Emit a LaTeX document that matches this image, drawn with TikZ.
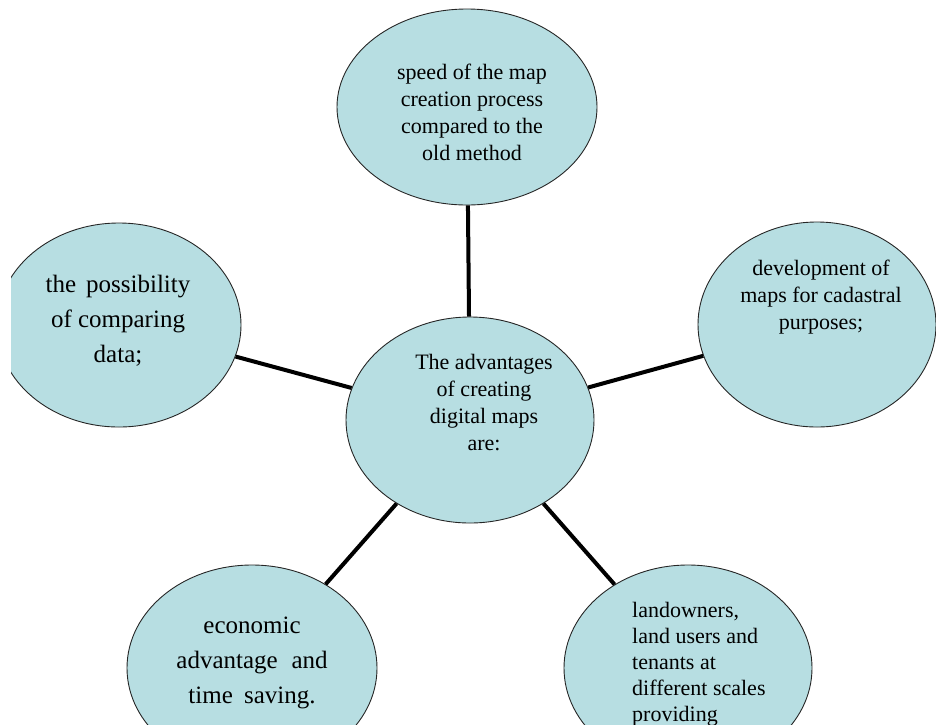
\documentclass[tikz,border=0pt]{standalone}
\usepackage{fontspec}
\setmainfont{Liberation Serif}
\usetikzlibrary{shapes.geometric}
\definecolor{bubble}{RGB}{183,222,226}
\begin{document}
\begin{tikzpicture}[x=1pt,y=-1pt,
  bub/.style={ellipse, draw=black!85, line width=0.9pt, fill=bubble, inner sep=0pt},
  link/.style={line width=4pt, draw=black},
  txt/.style={font=\fontsize{22}{27}\selectfont, align=center, inner sep=0pt},
  bigtxt/.style={font=\fontsize{25}{35}\selectfont, align=center, inner sep=0pt}]
\useasboundingbox (0,0) rectangle (936,724);
\clip (0,0) rectangle (936,724);
% ellipses
\node[bub, minimum width=260pt, minimum height=196pt] (top) at (467,107) {};
\node[bub, minimum width=248pt, minimum height=206pt] (ctr) at (470,420) {};
\node[bub, minimum width=238pt, minimum height=205pt] (right) at (817,324.5) {};
\begin{scope}
  \clip (11,0) rectangle (936,724);
  \node[bub, minimum width=244pt, minimum height=204pt] (left) at (119,325) {};
\end{scope}
\node[bub, minimum width=250pt, minimum height=206pt] (bl) at (252,668) {};
\node[bub, minimum width=248pt, minimum height=206pt] (br) at (688,668) {};
% connectors
\draw[link] (ctr) -- (top);
\draw[link] (ctr) -- (right);
\draw[link] (ctr) -- (left);
\draw[link] (ctr) -- (bl);
\draw[link] (ctr) -- (br);
% texts
\node[txt] (topT) at (472,112) {speed of the map\\creation process\\compared to the\\old method};
\node[txt] (ctrT) at (484,402.5) {The advantages\\of creating\\digital maps\\are:};
\node[txt] (rightT) at (821,297) {development of\\maps for cadastral\\purposes;};
\node[bigtxt] (leftT) at (118,321) {the\hspace{0.15em} possibility\\of comparing\\data;};
\node[bigtxt] (blT) at (252,663) {economic\\advantage\hspace{0.3em} and\\time\hspace{0.2em} saving.};
\node[txt, align=left, anchor=west, font=\fontsize{22}{26}\selectfont] (brT) at (632,664) {landowners,\\land users and\\tenants at\\different scales\\providing};
\end{tikzpicture}
\end{document}
